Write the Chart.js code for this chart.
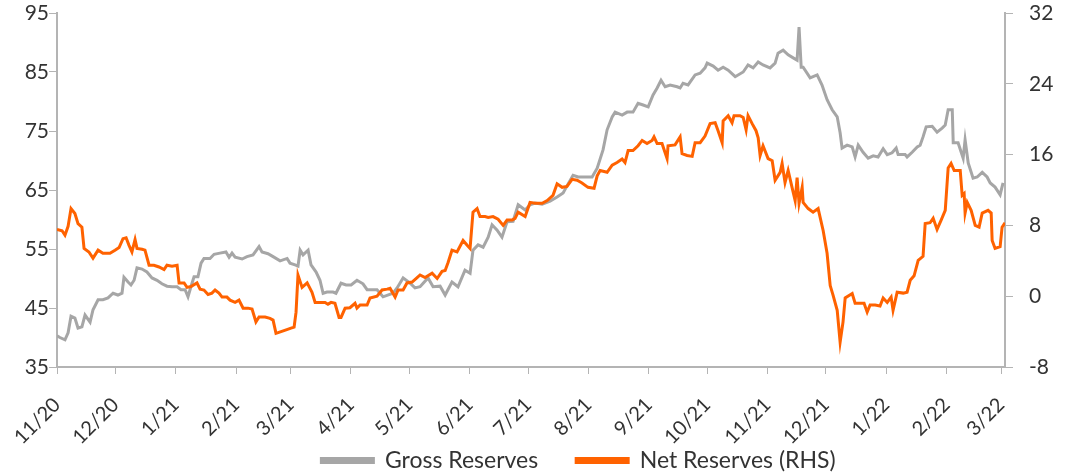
<!DOCTYPE html>
<html lang="en">
<head>
    <meta charset="UTF-8">
    <title>Gross and Net Reserves</title>
    <script src="https://cdn.jsdelivr.net/npm/chart.js"></script>
    <style>
        body {
            margin: 0;
            background: #ffffff;
        }

        .container {
            width: 1065px;
            height: 476px;
            position: relative;
        }
    </style>
</head>
<body>

    <div class="container">
        <canvas id="reservesChart"></canvas>
    </div>

    <script>
        // x = days since 1 Nov 2020
        const monthStarts = [0, 30, 61, 92, 120, 151, 181, 212, 242, 273, 304, 334, 365, 395, 426, 457, 485];
        const monthLabels = ['11/20', '12/20', '1/21', '2/21', '3/21', '4/21', '5/21', '6/21', '7/21', '8/21', '9/21', '10/21', '11/21', '12/21', '1/22', '2/22', '3/22'];

        // Gross Reserves (LHS)
        const grossDays = [0, 1.5, 4.1, 5.7, 7.2, 9.2, 10.8, 12.8, 14.4, 17, 18.5, 21.1, 23.6, 26.2, 28.8, 31.3, 33.4, 34.4, 36.5, 38, 39.6, 41.1, 43.7, 46.2, 48.8, 51.4, 53.9, 56.5, 59.1, 61.7, 63.7, 65.8, 67.3, 68.8, 70.4, 72.4, 74, 75.5, 78.6, 80.7, 83.7, 86.8, 88.4, 89.9, 91.5, 95.1, 97.6, 100.7, 103.8, 105.3, 108.4, 111, 114.6, 118.2, 119.7, 122.3, 123.8, 124.9, 126.4, 129, 130.5, 133.1, 135.1, 136.7, 138.7, 141.8, 143.3, 145.9, 148.5, 151.1, 154.1, 157.2, 159.3, 164.4, 167.5, 172.6, 174.7, 177.8, 181.4, 183.9, 186.5, 190.6, 193.2, 196.8, 199.4, 202.9, 206, 209.6, 212.2, 213.7, 216.3, 218.9, 221.5, 223.5, 226.1, 228.6, 231.2, 234.3, 236.9, 240.5, 243, 245.6, 249.2, 253.3, 256.9, 260, 262, 265.1, 267.7, 271.3, 274.9, 277.5, 280.5, 282.6, 285.2, 286.7, 290.3, 292.9, 295.9, 298.5, 301.1, 303.7, 306.2, 308.3, 310.3, 312.4, 315, 318.6, 320.1, 321.6, 324.2, 327.8, 330.4, 332.9, 334, 337.1, 339.6, 342.2, 344.8, 348.4, 352.5, 355, 357.6, 360.2, 362.7, 366.3, 368.9, 370.4, 373, 375.6, 378.2, 380.2, 381.2, 382.3, 383.3, 386.9, 390.5, 393, 395.6, 398.2, 400.8, 402.3, 403.3, 405.9, 408.5, 410, 411.6, 414.1, 416.7, 419.3, 421.8, 424.4, 426.5, 429, 431.1, 432.1, 435.7, 436.7, 439.3, 441.9, 443.4, 444.9, 446.5, 449.6, 452.1, 454.7, 456.3, 457.8, 459.9, 460.4, 462.9, 464.5, 465.5, 466.5, 468.1, 470.6, 472.7, 475.3, 477.8, 479.4, 481.9, 484.5, 486];
        const grossValues = [40.3, 40, 39.6, 40.8, 43.6, 43.3, 41.6, 41.8, 43.8, 42.6, 44.7, 46.4, 46.4, 46.7, 47.5, 47.2, 47.5, 50.2, 49.4, 48.9, 49.7, 51.8, 51.6, 51.1, 50.1, 49.7, 49.1, 48.7, 48.6, 48.6, 48.1, 48.1, 46.9, 48.6, 50.3, 50.3, 52.6, 53.4, 53.4, 54.1, 54.3, 54.5, 53.6, 54.3, 53.6, 53.3, 53.7, 54, 55.4, 54.5, 54.2, 53.7, 53, 53.4, 52.6, 52.3, 52.1, 54.8, 54, 54.8, 52.3, 51.1, 49.7, 47.5, 47.7, 47.7, 47.5, 49.2, 48.9, 48.9, 49.7, 49.1, 48.1, 48.1, 46.9, 47.5, 48.4, 50.1, 49.2, 48.4, 48.6, 50.1, 48.6, 48.7, 47.2, 49.4, 48.6, 51.4, 50.9, 54.8, 55.7, 55.3, 57, 59.1, 58.2, 57, 59.6, 59.7, 62.5, 61.6, 62.5, 62.8, 62.6, 63.1, 63.8, 64.5, 65.7, 67.5, 67.2, 67.2, 67.2, 68.7, 71.8, 75.2, 77.4, 78.2, 77.7, 78.2, 78.2, 79.7, 79.4, 79.1, 81.1, 82.3, 83.6, 82.5, 82.8, 82.5, 82.3, 83.1, 82.8, 84.5, 84.8, 85.7, 86.5, 86, 85.3, 85.8, 85.3, 84.2, 85, 86.2, 85.7, 86.7, 86.2, 85.7, 86.5, 88.2, 88.7, 87.9, 87.4, 87, 92.6, 85.8, 85.8, 84, 84.5, 82.8, 80.3, 78.6, 77.4, 74.7, 72.1, 72.6, 72.3, 70.6, 72.6, 71.4, 70.4, 70.8, 70.6, 72, 71, 71.3, 72.1, 71, 71, 70.6, 71.4, 72.3, 72.6, 74, 75.7, 75.8, 74.8, 75.5, 76, 78.6, 78.6, 73, 73, 71.4, 70.4, 73.5, 69.6, 67, 67.2, 68, 67.2, 66.2, 65.5, 64.2, 66.2];

        // Net Reserves (RHS)
        const netDays = [0, 2.6, 4.1, 5.7, 7.2, 9.2, 10.8, 12.8, 13.9, 16.4, 18.5, 21.1, 23.6, 27.2, 29.8, 31.9, 33.9, 35.5, 37, 38.5, 40.1, 41.1, 43.7, 45.2, 47.3, 49.8, 52.4, 55, 56.5, 59.1, 61.7, 62.7, 65.3, 66.8, 68.8, 71.9, 73.5, 75.5, 77.6, 79.6, 81.2, 83.2, 84.8, 87.3, 88.9, 91.5, 93.5, 95.6, 98.1, 100.2, 102.2, 103.8, 106.9, 109.4, 111, 112.5, 115.1, 117.7, 120.2, 121.8, 122.8, 123.8, 125.9, 128.5, 131, 132.6, 135.1, 137.7, 139.2, 140.8, 142.8, 144.9, 145.9, 148, 150.5, 153.1, 154.1, 155.7, 159.3, 160.8, 164.4, 167, 169.6, 171.1, 173.7, 175.2, 177.8, 179.8, 182.4, 185, 186.5, 189.1, 192.7, 195.3, 197.8, 199.4, 200.9, 202.9, 205.5, 208.6, 210.7, 212.2, 213.7, 215.8, 217.3, 219.9, 221.5, 224, 226.6, 229.2, 231.2, 233.8, 235.3, 236.9, 240.5, 243, 245.6, 249.2, 251.8, 254.8, 256.9, 259.5, 262, 264.6, 267.2, 269.7, 272.8, 275.9, 277.5, 279, 282.6, 285.2, 287.7, 290.3, 291.8, 293.4, 295.9, 298.5, 300.6, 303.1, 305.7, 306.7, 308.3, 310.8, 313.4, 313.9, 317.5, 320.1, 321.1, 323.7, 326.3, 327.8, 330.4, 332.9, 335.5, 338.1, 339.6, 341.7, 342.2, 344.8, 346.8, 347.8, 350.9, 352.5, 354, 355, 357.1, 359.1, 360.2, 361.2, 362.7, 365.3, 367.4, 368.9, 371.5, 372.5, 374, 375.6, 377.6, 379.2, 380.2, 381.2, 382.8, 383.3, 385.9, 388.4, 391, 393.6, 395.6, 397.2, 398.7, 400.8, 402.3, 403.8, 404.9, 408.5, 410, 412.6, 414.6, 416.2, 417.7, 420.3, 422.8, 424.4, 426.5, 428.5, 429.5, 431.6, 434.7, 436.7, 438.3, 440.3, 442.4, 444.9, 446, 448.5, 450.1, 452.1, 454.2, 456.3, 457.8, 459.3, 460.9, 464, 465, 466, 466.5, 467.6, 469.6, 471.7, 473.7, 475.3, 478.3, 479.9, 480.4, 481.9, 484.5, 485.5, 487];
        const netValues = [7.55, 7.4, 6.9, 7.9, 9.9, 9.35, 8.2, 7.8, 5.4, 5.0, 4.3, 5.2, 4.85, 4.85, 5.2, 5.5, 6.5, 6.6, 5.75, 5.0, 6.4, 5.4, 5.3, 5.2, 3.5, 3.5, 3.3, 3.0, 3.5, 3.4, 3.5, 1.5, 1.5, 1.0, 1.1, 1.5, 0.8, 0.7, 0.2, 0.35, 0.7, 0.35, -0.1, -0.1, -0.45, -0.7, -0.45, -1.35, -1.35, -1.45, -2.9, -2.35, -2.35, -2.5, -2.7, -4.2, -4.0, -3.8, -3.6, -3.5, -1.8, 2.4, 1.0, 1.5, 0.45, -0.7, -0.7, -0.7, -0.9, -0.7, -0.8, -2.4, -2.4, -1.35, -1.3, -0.8, -1.35, -1.0, -1.0, -0.2, 0, 0.7, 0.8, 0.9, -0.1, 0.7, 0.7, 1.5, 1.6, 2.1, 2.4, 2.1, 2.6, 2.0, 2.8, 2.9, 3.8, 5.2, 5.0, 6.3, 5.75, 5.4, 9.5, 9.9, 9.0, 9.0, 8.9, 9.0, 8.7, 8.0, 8.6, 8.6, 8.8, 9.5, 9.0, 10.6, 10.5, 10.5, 10.8, 11.4, 12.7, 12.3, 12.4, 13.2, 13.1, 12.8, 12.3, 12.2, 13.6, 14.2, 14, 14.8, 15.1, 15.5, 15.1, 16.45, 16.45, 17, 17.6, 17.25, 17.6, 18.0, 17.25, 17.25, 15.55, 17, 17.1, 18, 16.1, 15.9, 15.8, 17.35, 17.35, 18.1, 19.5, 19.6, 18.7, 17.35, 19.8, 20.4, 19.6, 20.4, 20.4, 20.2, 18.8, 20.4, 19.5, 18.7, 17.9, 15.9, 17, 15.55, 15.3, 13.1, 14, 15, 12.85, 14.2, 12.3, 10.8, 13.4, 10.5, 12.3, 10.6, 9.9, 9.5, 9.9, 7.4, 4.85, 1.2, 0.1, -1.6, -5.2, -2.9, -0.2, 0.3, -0.8, -0.8, -0.8, -1.8, -1.0, -1.0, -1.1, -0.2, -0.7, -0.1, -1.6, 0.45, 0.35, 0.45, 1.8, 2.3, 4.05, 4.5, 8.2, 8.3, 8.8, 7.55, 8.6, 9.7, 14.5, 15.0, 14.2, 14.2, 11.4, 11.6, 9.4, 10.6, 9.7, 8.0, 7.8, 9.4, 9.7, 9.4, 6.3, 5.4, 5.6, 7.8, 8.3];

        const GREY = '#A6A6A6';
        const ORANGE = '#FF6200';
        const AXIS = '#B4B4B4';
        const TEXT = '#333333';
        const FONT = 'Lato, "Open Sans", sans-serif';

        function toPoints(days, values) {
            return days.map((d, i) => ({ x: d, y: values[i] }));
        }

        // nudge the legend a bit right of centre, like the original
        const legendShift = {
            id: 'legendShift',
            afterLayout(chart) {
                chart.legend.left += 46;
                chart.legend.right += 46;
            }
        };

        // y axes: keep the plot top close to the canvas edge
        function fitY(width) {
            return axis => {
                axis.width = width;
                axis.paddingTop = 13;
                axis.paddingBottom = 10;
            };
        }

        const ctx = document.getElementById('reservesChart').getContext('2d');

        new Chart(ctx, {
            type: 'line',
            data: {
                datasets: [
                    {
                        label: 'Net Reserves (RHS)',
                        data: toPoints(netDays, netValues),
                        borderColor: ORANGE,
                        backgroundColor: ORANGE,
                        borderWidth: 3,
                        pointRadius: 0,
                        tension: 0,
                        yAxisID: 'y1'
                    },
                    {
                        label: 'Gross Reserves',
                        data: toPoints(grossDays, grossValues),
                        borderColor: GREY,
                        backgroundColor: GREY,
                        borderWidth: 3,
                        pointRadius: 0,
                        tension: 0,
                        yAxisID: 'y'
                    }
                ]
            },
            options: {
                responsive: true,
                maintainAspectRatio: false,
                animation: false,
                layout: { padding: { top: 0, bottom: -6 } },
                plugins: {
                    tooltip: { enabled: false },
                    legend: {
                        position: 'bottom',
                        reverse: true,
                        labels: {
                            boxWidth: 52,
                            boxHeight: 4,
                            padding: 38,
                            color: TEXT,
                            font: { family: FONT, size: 23 }
                        }
                    }
                },
                scales: {
                    x: {
                        type: 'linear',
                        min: 0,
                        max: 487,
                        afterBuildTicks: axis => {
                            axis.ticks = monthStarts.map(v => ({ value: v }));
                        },
                        afterFit: axis => {
                            axis.height = 44;
                            axis.paddingLeft = 0;
                            axis.paddingRight = 0;
                            // rotated labels run into the legend band, don't clip them
                            axis._computeLabelArea = () => undefined;
                        },
                        ticks: {
                            autoSkip: false,
                            minRotation: 45,
                            maxRotation: 45,
                            padding: 19,
                            color: TEXT,
                            font: { family: FONT, size: 20 },
                            callback: (value) => monthLabels[monthStarts.indexOf(value)]
                        },
                        grid: {
                            drawOnChartArea: false,
                            color: AXIS,
                            tickLength: 7
                        },
                        border: { color: AXIS, width: 2 }
                    },
                    y: {
                        position: 'left',
                        min: 35,
                        max: 95,
                        afterFit: fitY(57),
                        ticks: {
                            stepSize: 10,
                            padding: 0,
                            color: TEXT,
                            font: { family: FONT, size: 21 }
                        },
                        grid: {
                            drawOnChartArea: false,
                            color: AXIS,
                            tickLength: 8
                        },
                        border: { color: AXIS, width: 2 }
                    },
                    y1: {
                        position: 'right',
                        min: -8,
                        max: 32,
                        afterFit: fitY(60),
                        ticks: {
                            stepSize: 8,
                            padding: 16,
                            color: TEXT,
                            font: { family: FONT, size: 21 }
                        },
                        grid: {
                            drawOnChartArea: false,
                            color: AXIS,
                            tickLength: 8
                        },
                        border: { color: AXIS, width: 2 }
                    }
                }
            },
            plugins: [legendShift]
        });
    </script>

</body>
</html>
